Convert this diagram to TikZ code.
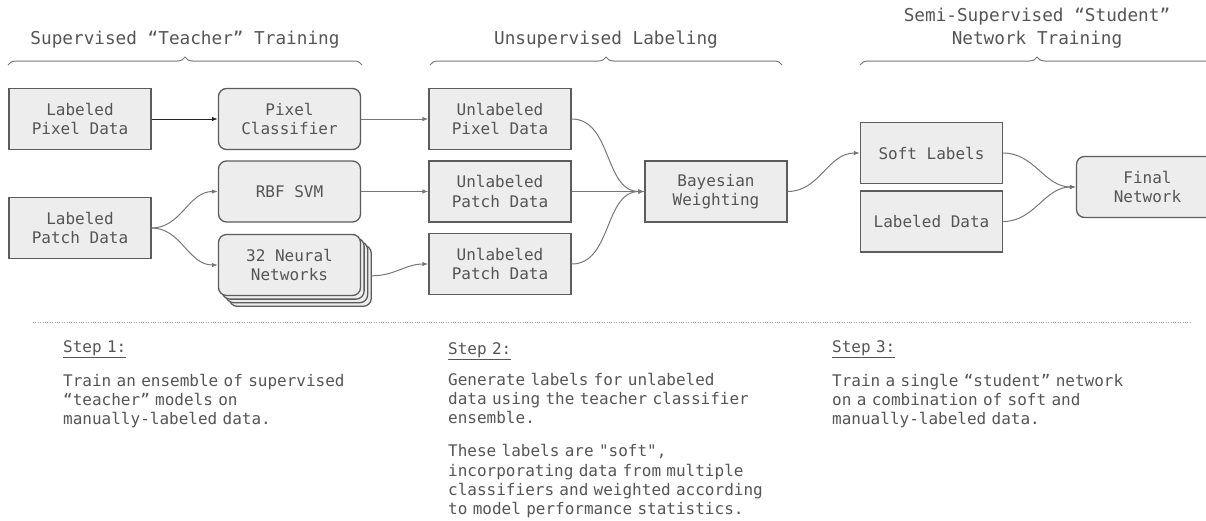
\documentclass[tikz,border=0pt]{standalone}
\usepackage{fontspec}
\setmonofont{DejaVu Sans Mono}
\renewcommand{\familydefault}{\ttdefault}
\usepackage{tikz}
\usetikzlibrary{positioning,arrows.meta,decorations.pathreplacing}

\definecolor{boxfill}{HTML}{EDEDED}
\definecolor{boxline}{HTML}{5C5C5C}
\definecolor{txt}{HTML}{555555}
\definecolor{wire}{HTML}{777777}

\tikzset{
  databox/.style={draw=boxline, fill=boxfill, line width=1.3pt, minimum width=142pt,
    minimum height=61pt, inner sep=0pt, align=center, text=txt,
    font=\fontsize{16}{19.5}\selectfont},
  modelbox/.style={databox, rounded corners=8pt},
  heading/.style={text=txt, align=center, inner sep=0pt, font=\fontsize{17.7}{23}\selectfont},
  stage/.style={draw=wire, line width=1pt, decorate, decoration={brace, amplitude=8pt}},
  note/.style={anchor=base west, inner sep=0pt, text=txt, text width=340pt, align=left,
    font=\fontsize{16}{19.3}\selectfont},
}

\begin{document}
\begin{tikzpicture}[x=1pt, y=-1pt, on grid, >={Latex[length=6pt,width=4.5pt]}]
  \useasboundingbox (0,0) rectangle (1206,520);

  % stage titles
  \node[heading] (t1) at (185,40) {Supervised “Teacher” Training};
  \node[heading] (t2) at (606,40) {Unsupervised Labeling};
  \node[heading] (t3) at (1037,28.5) {Semi-Supervised “Student”\\Network Training};
  \draw[stage] (8,65) -- (362,65);
  \draw[stage] (430,65) -- (782,65);
  \draw[stage] (860,65) -- (1214,65);

  % teacher training
  \node[databox] (lpix) at (80,119) {Labeled\\Pixel Data};
  \node[modelbox] (pcls) [right=209.5pt of lpix] {Pixel\\Classifier};
  \node[databox] (lpatch) at (80,228) {Labeled\\Patch Data};
  \node[modelbox] (svm) [below=72.5pt of pcls] {RBF SVM};
  \foreach \k in {3,2,1}
    \node[modelbox] (nn\k) at (289.5+3.6*\k, 265+3.6*\k) {};
  \node[modelbox] (nn) at (289.5,265) {32 Neural\\Networks};

  % unsupervised labeling
  \node[databox] (upix) [right=210.5pt of pcls] {Unlabeled\\Pixel Data};
  \node[databox] (upatch1) [below=72.5pt of upix] {Unlabeled\\Patch Data};
  \node[databox] (upatch2) [below=72.5pt of upatch1] {Unlabeled\\Patch Data};
  \node[databox] (bayes) [right=216pt of upatch1] {Bayesian\\Weighting};

  % student training
  \node[databox] (soft) at (931.5,153) {Soft Labels};
  \node[databox] (ldata) [below=68.5pt of soft] {Labeled Data};
  \node[modelbox] (final) at (1147.5,187) {Final\\Network};

  \draw[->, line width=1pt, black!85] (lpix) -- (pcls);
  \path[->, color=wire, line width=1pt]
    (pcls) edge (upix)
    (svm) edge (upatch1)
    (upatch1) edge (bayes)
    (lpatch) edge[out=0, in=180] (svm)
    (lpatch) edge[out=0, in=180] (nn)
    (nn3) edge[out=0, in=180] (upatch2)
    (upix) edge[out=0, in=180] (bayes)
    (upatch2) edge[out=0, in=180] (bayes)
    (bayes) edge[out=0, in=180] (soft)
    (soft) edge[out=0, in=180] (final)
    (ldata) edge[out=0, in=180] (final);

  % steps
  \draw[dotted, color=black!35] (33,322) -- (1190,322);
  \node[note] (s1) at (63,352) {\underline{Step 1:}};
  \node[note] (n1) at (63,386) {Train an ensemble of supervised\\“teacher” models on\\manually-labeled data.};
  \node[note] (s2) at (448,354) {\underline{Step 2:}};
  \node[note] (n2) at (448,385) {Generate labels for unlabeled\\data using the teacher classifier\\ensemble.\\[14pt]These labels are "soft",\\incorporating data from multiple\\classifiers and weighted according\\to model performance statistics.};
  \node[note] (s3) at (832,352) {\underline{Step 3:}};
  \node[note] (n3) at (832,386) {Train a single “student” network\\on a combination of soft and\\manually-labeled data.};
\end{tikzpicture}
\end{document}
